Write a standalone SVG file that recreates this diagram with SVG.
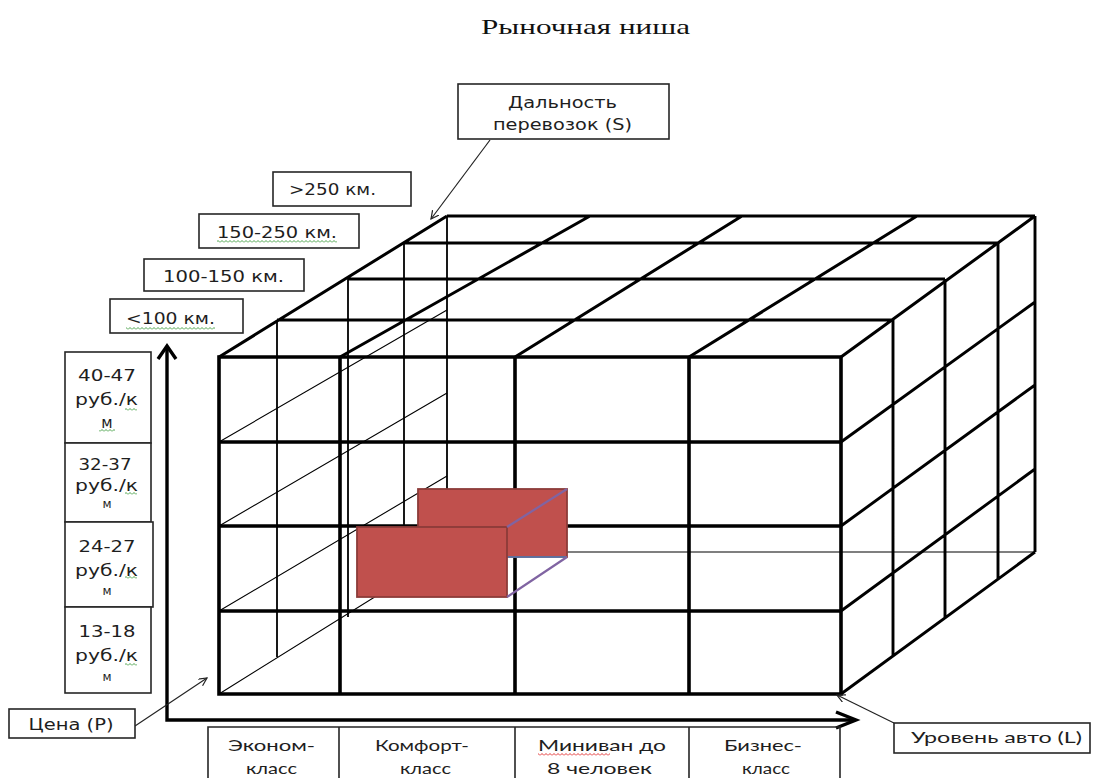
<svg xmlns="http://www.w3.org/2000/svg" width="1093" height="778" viewBox="0 0 1093 778">
<defs>
<style>
.bx{fill:#fff;stroke:#262626;stroke-width:1.6}
.bl{fill:none;stroke:#262626;stroke-width:1.6}
.t{font-family:"DejaVu Sans",Verdana,sans-serif;font-size:15px;fill:#1e1e1e;text-anchor:middle}
.ts{font-family:"DejaVu Sans",Verdana,sans-serif;font-size:12px;fill:#1e1e1e;text-anchor:middle}
.c{font-family:Lato,"Liberation Sans",sans-serif;font-size:16px;fill:#1e1e1e;text-anchor:middle}
.ttl{font-family:"Liberation Serif","Times New Roman",serif;font-size:21px;fill:#111;text-anchor:middle}
.fr{fill:none;stroke:#000;stroke-width:3.6}
.tp{fill:none;stroke:#000;stroke-width:3}
.rt{fill:none;stroke:#000;stroke-width:2.9}
.lv{fill:none;stroke:#000;stroke-width:1.8}
.ld{fill:none;stroke:#000;stroke-width:1.1}
.ax{fill:none;stroke:#000;stroke-width:3.4}
.cn{fill:none;stroke:#222;stroke-width:1.2}
.rb{fill:#c0504d;stroke:#8c3b39;stroke-width:1.8}
</style>
<marker id="ah" markerWidth="10" markerHeight="10" refX="8" refY="4" orient="auto" markerUnits="userSpaceOnUse"><path d="M0,0 L8,4 L0,8" fill="none" stroke="#222" stroke-width="1.2"/></marker>
<pattern id="sg" width="4" height="3" patternUnits="userSpaceOnUse"><path d="M0,2.5 L2,0.5 L4,2.5" fill="none" stroke="#3a9a3a" stroke-width="0.9"/></pattern>
<pattern id="sr" width="4" height="3" patternUnits="userSpaceOnUse"><path d="M0,2.5 L2,0.5 L4,2.5" fill="none" stroke="#e02020" stroke-width="0.9"/></pattern>
</defs>
<rect x="0" y="0" width="1093" height="778" fill="#fff"/>

<text class="ttl" x="585.5" y="34" textLength="209" lengthAdjust="spacingAndGlyphs">Рыночная ниша</text>

<g id="cube">
  <path class="lv" d="M277,320V657 M348,279V617 M404,243V580 M447,216V552"/>
  <path class="ld" d="M219,442L447,310 M219,526L447,393 M219,611L447,476 M219,694L447,552 M447,552H1035"/>
  <path class="tp" d="M447,216H1035 M404,243H998 M348,279H945 M277,320H893 M219,357L447,216 M340,357L590,216 M515,357L742,216 M689,357L917,216 M841,357L1035,216"/>
  <path class="rt" d="M893,320V656 M945,279V618 M998,243V579 M1035,216V552 M841,442L1035,302 M841,526L1035,385 M841,611L1035,469 M841,694L1035,552"/>
  <path class="fr" d="M219,357H841V694H219Z M340,357V694 M515,357V694 M689,357V694 M219,442H841 M219,526H841 M219,611H841"/>
</g>

<g id="niche">
  <rect class="rb" x="418" y="489" width="149" height="68"/>
  <path d="M507,557H567" stroke="#4f81bd" stroke-width="1.3" fill="none"/>
  <rect class="rb" x="357" y="527" width="150" height="70"/>
  <path d="M507,527L567,489 M507,597L567,557" stroke="#8064a2" stroke-width="2.2" fill="none"/>
</g>

<g id="connectors">
  <path class="ax" d="M167,346V720H855"/>
  <path class="ax" d="M158,359L167,346L176,359 M836,712L856,720L836,728"/>
  <path class="cn" d="M135,726L207,678" marker-end="url(#ah)"/>
  <path class="cn" d="M490,140L431,219" marker-end="url(#ah)"/>
  <path class="cn" d="M894,723L837,695" marker-end="url(#ah)"/>
</g>

<g id="node-distance">
  <rect class="bx" x="458" y="84" width="211" height="55"/>
  <text class="t" x="562.5" y="108" textLength="109" lengthAdjust="spacingAndGlyphs">Дальность</text>
  <text class="t" x="562.5" y="130" textLength="139" lengthAdjust="spacingAndGlyphs">перевозок (S)</text>
</g>
<g id="node-km250">
  <rect class="bx" x="273" y="172" width="138" height="34"/>
  <text class="t" x="332.5" y="195" textLength="87" lengthAdjust="spacingAndGlyphs">&gt;250 км.</text>
</g>
<g id="node-km150">
  <rect class="bx" x="199" y="214" width="160" height="34"/>
  <text class="t" x="277" y="238" textLength="120" lengthAdjust="spacingAndGlyphs">150-250 км.</text>
</g>
<g id="node-km100">
  <rect class="bx" x="144" y="259" width="160" height="32"/>
  <text class="t" x="223.5" y="282" textLength="121" lengthAdjust="spacingAndGlyphs">100-150 км.</text>
</g>
<g id="node-km0">
  <rect class="bx" x="110" y="299" width="133" height="34"/>
  <text class="t" x="170.5" y="324" textLength="89" lengthAdjust="spacingAndGlyphs">&lt;100 км.</text>
</g>

<g id="node-p4">
  <rect class="bx" x="65" y="352" width="86" height="91"/>
  <text class="t" x="107" y="381" textLength="58" lengthAdjust="spacingAndGlyphs">40-47</text>
  <text class="t" x="106.5" y="405" textLength="63" lengthAdjust="spacingAndGlyphs">руб./к</text>
  <text class="t" x="107" y="428">м</text>
</g>
<g id="node-p3">
  <rect class="bx" x="65" y="443" width="86" height="79"/>
  <text class="t" x="105" y="470" textLength="53" lengthAdjust="spacingAndGlyphs">32-37</text>
  <text class="t" x="106.5" y="491" textLength="63" lengthAdjust="spacingAndGlyphs">руб./к</text>
  <text class="ts" x="107" y="508">м</text>
</g>
<g id="node-p2">
  <rect class="bx" x="65" y="522" width="88" height="85"/>
  <text class="t" x="107" y="552" textLength="57" lengthAdjust="spacingAndGlyphs">24-27</text>
  <text class="t" x="106.5" y="576" textLength="63" lengthAdjust="spacingAndGlyphs">руб./к</text>
  <text class="ts" x="107" y="595">м</text>
</g>
<g id="node-p1">
  <rect class="bx" x="65" y="607" width="86" height="86"/>
  <text class="t" x="107" y="637" textLength="57" lengthAdjust="spacingAndGlyphs">13-18</text>
  <text class="t" x="106.5" y="661" textLength="63" lengthAdjust="spacingAndGlyphs">руб./к</text>
  <text class="ts" x="107" y="681">м</text>
</g>

<g id="node-price">
  <rect class="bx" x="9" y="709" width="126" height="29"/>
  <text class="t" x="71" y="730" textLength="85" lengthAdjust="spacingAndGlyphs">Цена (P)</text>
</g>

<g id="node-classes">
  <path class="bl" d="M208,778V727H840V778 M339,727V778 M515,727V778 M689,727V778"/>
  <text class="c" x="271.5" y="751" textLength="87" lengthAdjust="spacingAndGlyphs">Эконом-</text>
  <text class="c" x="271.5" y="774" textLength="51" lengthAdjust="spacingAndGlyphs">класс</text>
  <text class="c" x="422" y="751" textLength="94" lengthAdjust="spacingAndGlyphs">Комфорт-</text>
  <text class="c" x="425.5" y="774" textLength="51" lengthAdjust="spacingAndGlyphs">класс</text>
  <text class="c" x="602" y="751" textLength="128" lengthAdjust="spacingAndGlyphs">Миниван до</text>
  <text class="c" x="599.5" y="774" textLength="105" lengthAdjust="spacingAndGlyphs">8 человек</text>
  <text class="c" x="763" y="751" textLength="78" lengthAdjust="spacingAndGlyphs">Бизнес-</text>
  <text class="c" x="766" y="774" textLength="48" lengthAdjust="spacingAndGlyphs">класс</text>
</g>

<g id="node-level">
  <rect class="bx" x="894" y="723" width="196" height="30"/>
  <text class="c" x="996.5" y="743" textLength="171" lengthAdjust="spacingAndGlyphs">Уровень авто (L)</text>
</g>

<g id="spellcheck">
  <rect x="217" y="240" width="120" height="3" fill="url(#sg)"/>
  <rect x="126" y="327" width="89" height="3" fill="url(#sg)"/>
  <rect x="125" y="408" width="12" height="3" fill="url(#sg)"/>
  <rect x="99" y="429" width="16" height="3" fill="url(#sg)"/>
  <rect x="125" y="492" width="12" height="3" fill="url(#sg)"/>
  <rect x="125" y="576" width="12" height="3" fill="url(#sg)"/>
  <rect x="125" y="663" width="12" height="3" fill="url(#sg)"/>
  <rect x="538" y="753" width="72" height="3" fill="url(#sr)"/>
</g>
</svg>
